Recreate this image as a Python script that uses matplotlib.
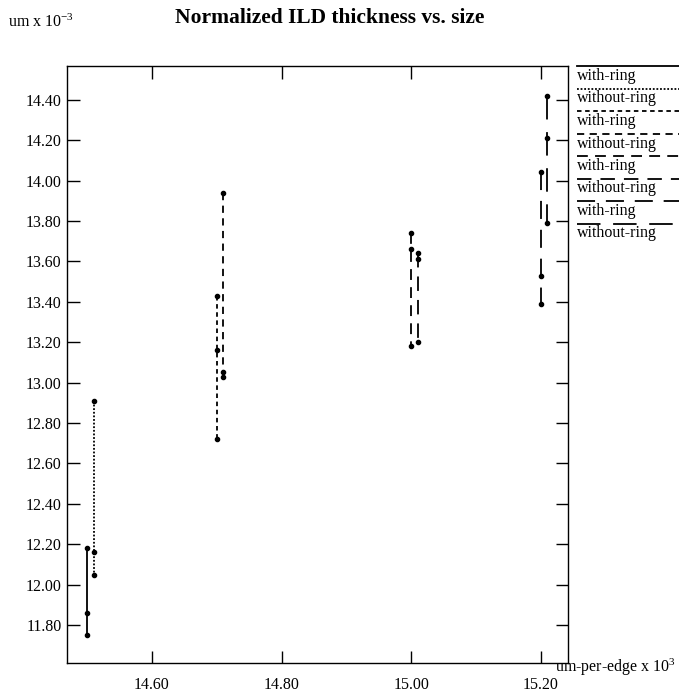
import numpy as np
import matplotlib
matplotlib.use('Agg')
import matplotlib.pyplot as plt
from matplotlib.lines import Line2D

# ------------------------------------------------
# ILD thickness (um x 1e-3) per die size (um-per-edge x 1e3)
# ------------------------------------------------

# data
labels = ['with-ring', 'without-ring'] * 4

size_1450_ring = [14.50, 14.50, 14.50]
thk_1450_ring = [12.18, 11.86, 11.75]
size_1450_noring = [14.51, 14.51, 14.51]
thk_1450_noring = [12.91, 12.16, 12.05]

size_1470_ring = [14.70, 14.70, 14.70]
thk_1470_ring = [13.43, 13.16, 12.72]
size_1470_noring = [14.71, 14.71, 14.71]
thk_1470_noring = [13.94, 13.05, 13.03]

size_1500_ring = [15.00, 15.00, 15.00]
thk_1500_ring = [13.74, 13.66, 13.18]
size_1500_noring = [15.01, 15.01, 15.01]
thk_1500_noring = [13.64, 13.61, 13.20]

size_1520_ring = [15.20, 15.20, 15.20]
thk_1520_ring = [14.04, 13.53, 13.39]
size_1520_noring = [15.21, 15.21, 15.21]
thk_1520_noring = [14.42, 14.21, 13.79]

xs = [size_1450_ring, size_1450_noring, size_1470_ring, size_1470_noring,
      size_1500_ring, size_1500_noring, size_1520_ring, size_1520_noring]
ys = [thk_1450_ring, thk_1450_noring, thk_1470_ring, thk_1470_noring,
      thk_1500_ring, thk_1500_noring, thk_1520_ring, thk_1520_noring]

xticks = [14.60, 14.80, 15.00, 15.20]
yticks = [11.80, 12.00, 12.20, 12.40, 12.60, 12.80, 13.00, 13.20,
          13.40, 13.60, 13.80, 14.00, 14.20, 14.40]

# xgraph-like line styles, one per series
styles = ['-', (0, (1, 1)), (0, (2.5, 2)), (0, (4, 3)),
          (0, (6, 4)), (0, (8, 5)), (0, (10, 6)), (0, (13, 7))]

# look
plt.rcParams['font.family'] = 'Liberation Serif'
plt.rcParams['mathtext.fontset'] = 'custom'
plt.rcParams['mathtext.rm'] = 'Liberation Serif'
plt.rcParams['mathtext.it'] = 'Liberation Serif:italic'

W, H = 679, 698
fig = plt.figure(figsize=(W / 100, H / 100), dpi=100)
ax = fig.add_axes([67 / W, 1 - 663 / H, (568 - 67) / W, (663 - 66) / H])

for x, y, ls in zip(xs, ys, styles):
    ax.plot(x, y, color='black', linestyle=ls, linewidth=1.3,
            marker='o', markersize=3, dash_capstyle='butt')

ax.set_xlim(14.469, 15.242)
ax.set_ylim(11.612, 14.567)
ax.set_xticks(xticks)
ax.set_yticks(yticks)
ax.set_xticklabels(['%.2f' % t for t in xticks])
ax.set_yticklabels(['%.2f' % t for t in yticks])
ax.tick_params(direction='in', length=9, width=1, labelsize=11.5,
               top=True, right=True)
ax.tick_params(axis='x', pad=10)
ax.tick_params(axis='y', pad=4)
for s in ax.spines.values():
    s.set_linewidth(1)

# titles / axis units
fig.text(330 / W, 1 - 18 / H, 'Normalized ILD thickness vs. size', ha='center',
         va='center', fontsize=15.5, fontweight='bold')
fig.text(8 / W, 1 - 27 / H, r'um x 10$^{\mathrm{-3}}$', ha='left',
         va='baseline', fontsize=11.5)
fig.text(555 / W, 1 - 672 / H, r'um-per-edge x 10$^{\mathrm{3}}$', ha='left',
         va='baseline', fontsize=11.5)

# legend: line sample above each label
for i, (lab, ls) in enumerate(zip(labels, styles)):
    ly = 1 - (66 + i * 22.5) / H
    fig.add_artist(Line2D([577 / W, 1.0], [ly, ly], color='black',
                          linestyle=ls, linewidth=1.3,
                          transform=fig.transFigure))
    fig.text(577 / W, ly - 10 / H, lab, ha='left', va='center', fontsize=11.5)

fig.savefig('out.png', dpi=100)
